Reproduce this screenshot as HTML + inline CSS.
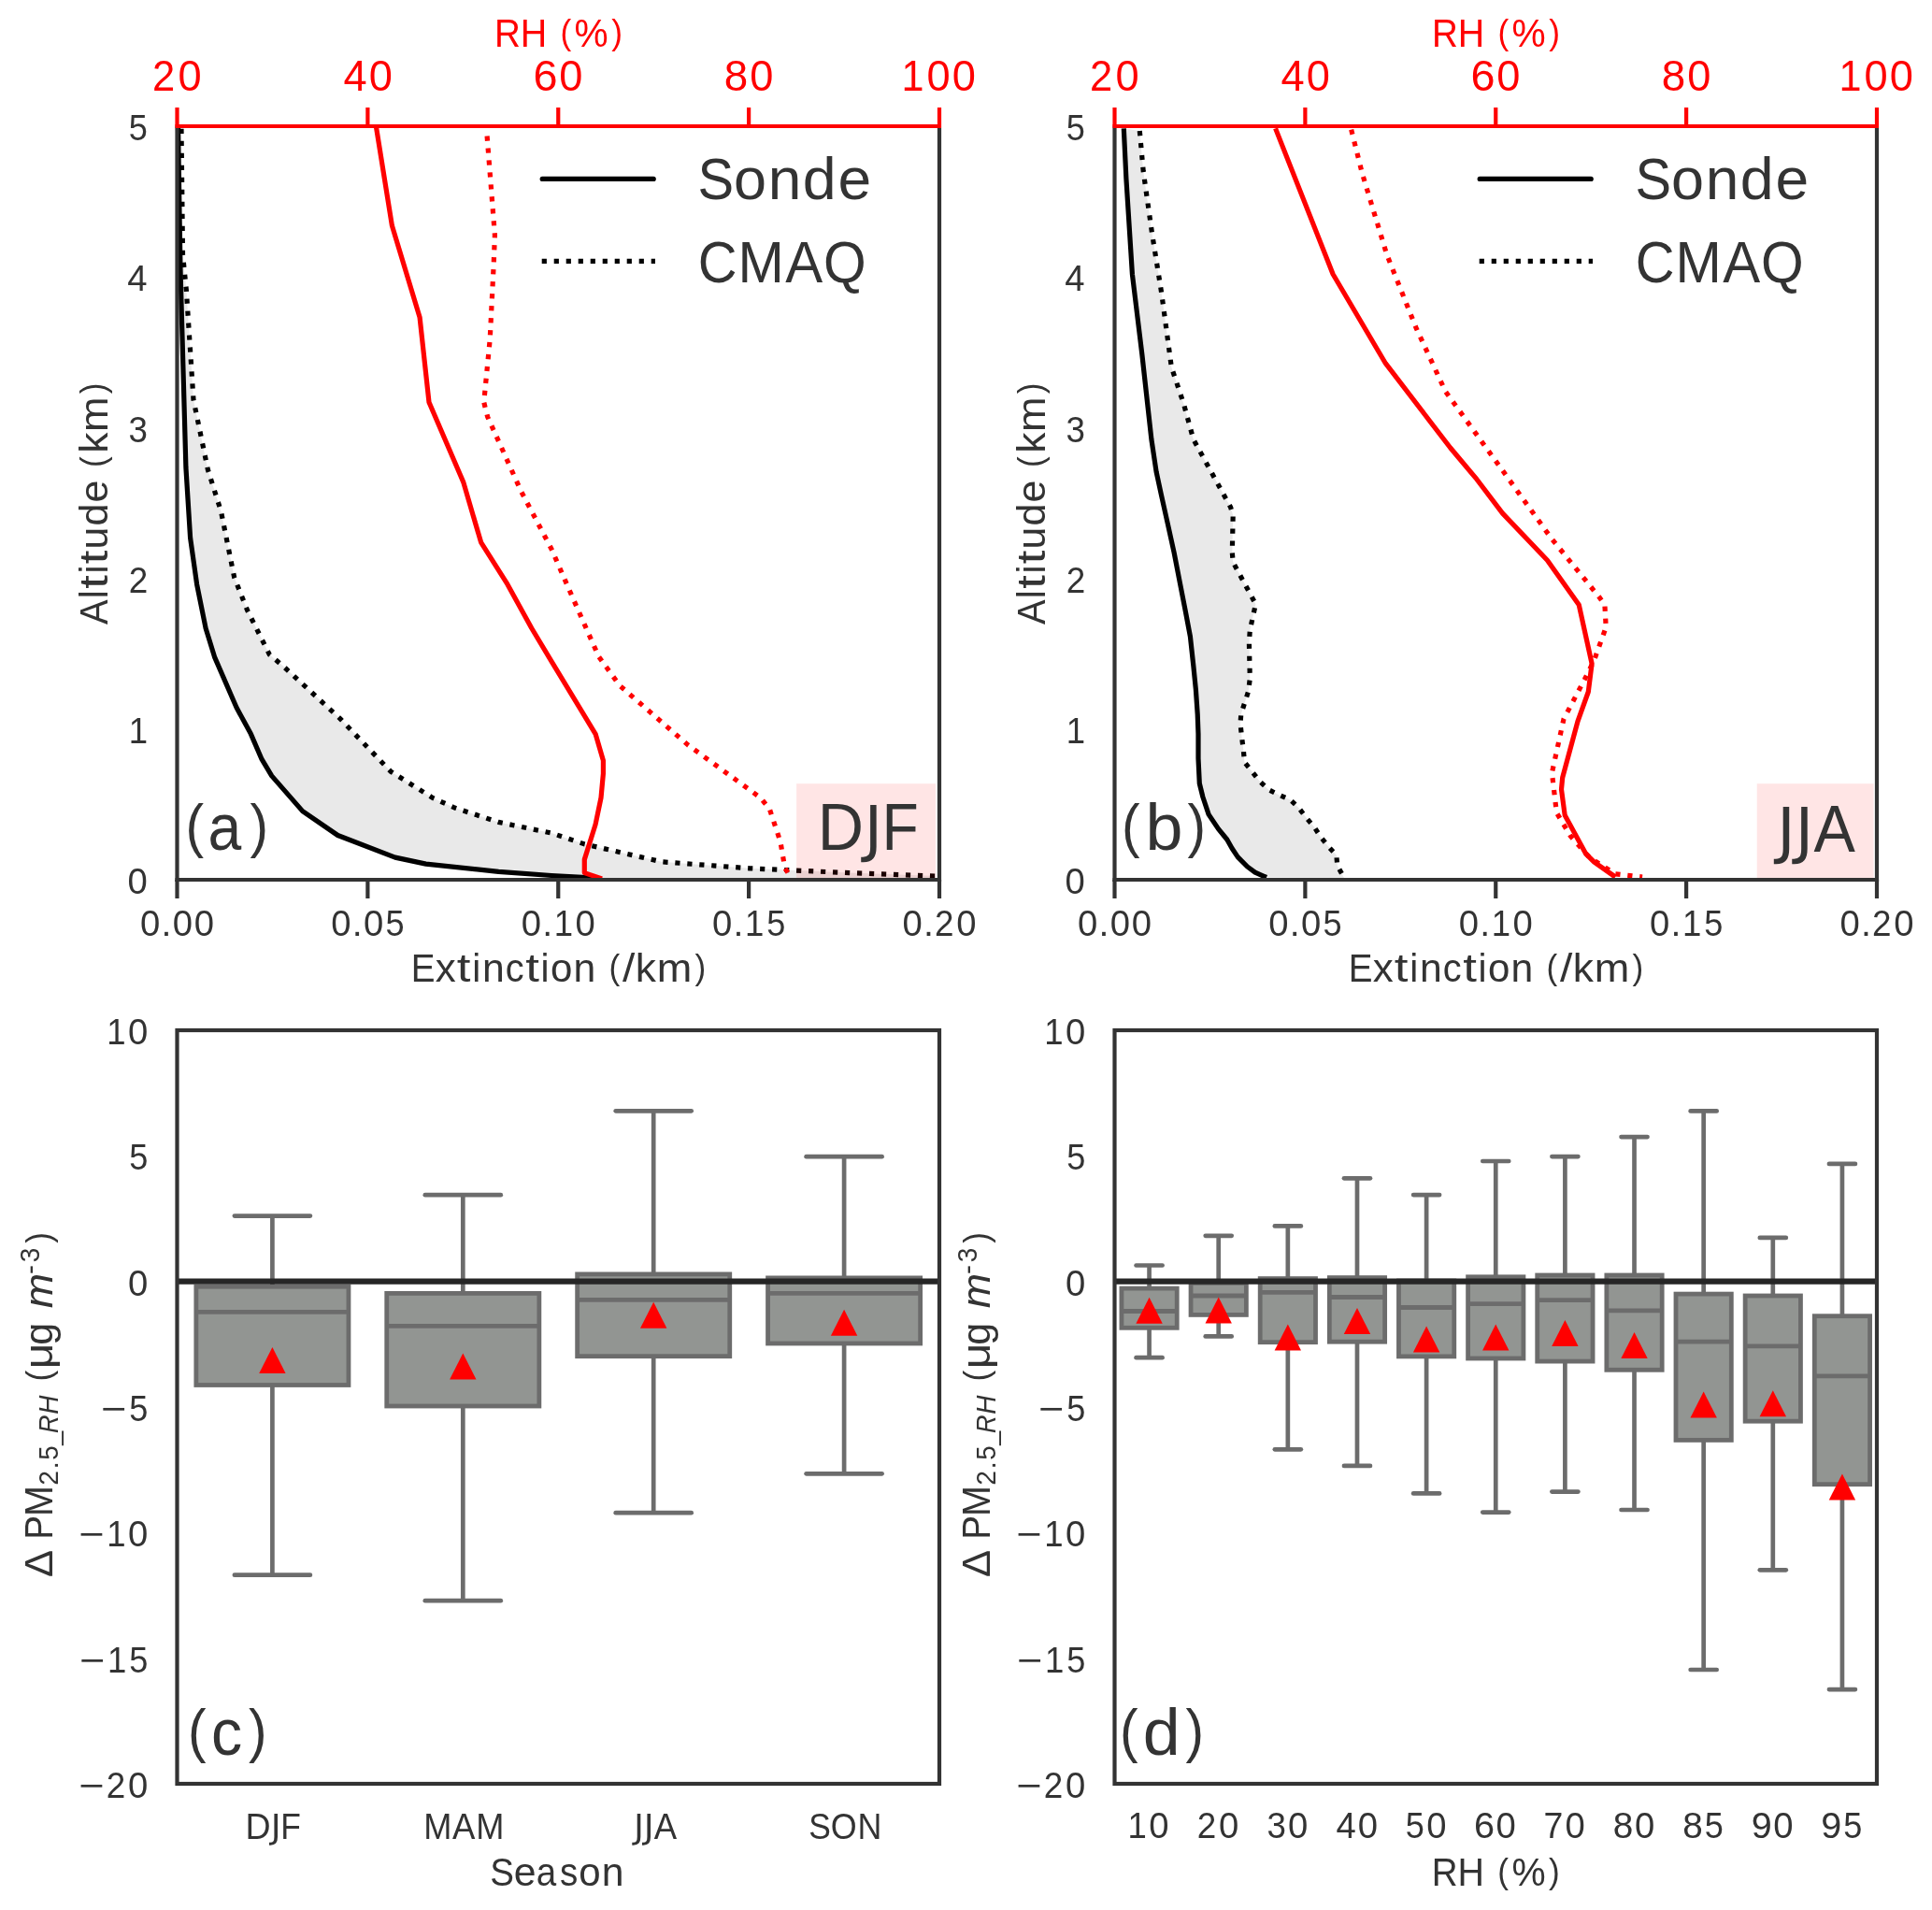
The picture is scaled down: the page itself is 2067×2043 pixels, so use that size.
<!DOCTYPE html>
<html><head><meta charset="utf-8"><style>html,body{margin:0;padding:0;background:#fff;overflow:hidden;}svg text{font-kerning:none;}svg{will-change:transform;}</style></head><body>
<svg width="2067" height="2043" viewBox="0 0 2067 2043" style="display:block" font-family="'Liberation Sans', sans-serif">
<rect width="2067" height="2043" fill="#ffffff"/>
<path d="M190.5,136 L191.5,200 L192.9,285 L195,360 L198.9,500 L203.6,575.4 L210.6,624.9 L220.1,672 L229.5,702.6 L253,756.8 L268.4,785.1 L280.1,812.2 L290.7,829.9 L323.7,867.6 L361.4,893.5 L422.7,917.1 L455.7,924.1 L533.4,932.4 L590,936.5 L637.1,939 L1001,939 L1001,937.1 L908.1,933.6 L802.1,928.8 L707.8,921.8 L625.3,902.9 L590,891.1 L533.4,879.4 L486.3,864 L462.8,853.4 L418,825.2 L363.8,768.6 L302.5,712.1 L288.4,700.3 L264.8,653.2 L250.7,617.8 L236.5,547.1 L222.4,502.4 L207,427.6 L199.4,311 L195.5,272 L194,137.8 Z" fill="#e9e9e9" stroke="none"/>
<path d="M190.5,136 L191.5,200 L192.9,285 L195,360 L198.9,500 L203.6,575.4 L210.6,624.9 L220.1,672 L229.5,702.6 L253,756.8 L268.4,785.1 L280.1,812.2 L290.7,829.9 L323.7,867.6 L361.4,893.5 L422.7,917.1 L455.7,924.1 L533.4,932.4 L590,936.5 L637.1,939" fill="none" stroke="#000" stroke-width="5.2" stroke-linecap="butt" stroke-linejoin="round"/>
<path d="M194,137.8 L195.5,272 L199.4,311 L207,427.6 L222.4,502.4 L236.5,547.1 L250.7,617.8 L264.8,653.2 L288.4,700.3 L302.5,712.1 L363.8,768.6 L418,825.2 L462.8,853.4 L486.3,864 L533.4,879.4 L590,891.1 L625.3,902.9 L707.8,921.8 L802.1,928.8 L908.1,933.6 L1001,937.1" fill="none" stroke="#000" stroke-width="5.2" stroke-linecap="butt" stroke-linejoin="round" stroke-dasharray="5.20 7.80"/>
<path d="M402.6,136.5 L419.4,241.3 L449.1,339.6 L459,430.2 L495.7,515.6 L514.6,580.1 L542.9,624.9 L568.8,672 L590,707.3 L637.1,785.1 L645.4,813.4 L645.4,827.5 L643,853.4 L637.1,881.7 L625.3,919.4 L625.3,933.6 L644,940" fill="none" stroke="#ff0000" stroke-width="5.2" stroke-linecap="butt" stroke-linejoin="round"/>
<path d="M521.1,145.5 L529.4,251.6 L528.1,285 L524.2,362.9 L517.7,430.2 L521.6,445.7 L557.8,526 L590,587.2 L613.6,641.4 L640.7,702.6 L663,733.3 L736.1,796.9 L813.8,853.4 L823.3,865.2 L835,900.6 L839.8,928.8 L846.8,939" fill="none" stroke="#ff0000" stroke-width="5.2" stroke-linecap="butt" stroke-linejoin="round" stroke-dasharray="5.20 7.80"/>
<line x1="189.5" y1="135" x2="189.5" y2="943" stroke="#333333" stroke-width="4.2" stroke-linecap="butt"/>
<line x1="1005" y1="135" x2="1005" y2="943" stroke="#333333" stroke-width="4.2" stroke-linecap="butt"/>
<line x1="187.5" y1="941" x2="1007" y2="941" stroke="#333333" stroke-width="4.2" stroke-linecap="butt"/>
<line x1="189.5" y1="941" x2="189.5" y2="961" stroke="#333333" stroke-width="4.2" stroke-linecap="butt"/>
<line x1="393.38" y1="941" x2="393.38" y2="961" stroke="#333333" stroke-width="4.2" stroke-linecap="butt"/>
<line x1="597.25" y1="941" x2="597.25" y2="961" stroke="#333333" stroke-width="4.2" stroke-linecap="butt"/>
<line x1="801.12" y1="941" x2="801.12" y2="961" stroke="#333333" stroke-width="4.2" stroke-linecap="butt"/>
<line x1="1005" y1="941" x2="1005" y2="961" stroke="#333333" stroke-width="4.2" stroke-linecap="butt"/>
<line x1="187.5" y1="135" x2="1007" y2="135" stroke="#ff0000" stroke-width="4.2" stroke-linecap="butt"/>
<line x1="189.5" y1="135" x2="189.5" y2="115" stroke="#ff0000" stroke-width="4.2" stroke-linecap="butt"/>
<line x1="393.38" y1="135" x2="393.38" y2="115" stroke="#ff0000" stroke-width="4.2" stroke-linecap="butt"/>
<line x1="597.25" y1="135" x2="597.25" y2="115" stroke="#ff0000" stroke-width="4.2" stroke-linecap="butt"/>
<line x1="801.12" y1="135" x2="801.12" y2="115" stroke="#ff0000" stroke-width="4.2" stroke-linecap="butt"/>
<line x1="1005" y1="135" x2="1005" y2="115" stroke="#ff0000" stroke-width="4.2" stroke-linecap="butt"/>
<line x1="580.2" y1="191.4" x2="699.2" y2="191.4" stroke="#000" stroke-width="5.2" stroke-linecap="round"/>
<line x1="579.7" y1="279.4" x2="701" y2="279.4" stroke="#000" stroke-width="5.2" stroke-dasharray="5.20 7.80"/>
<g transform="translate(750.5,213)" fill="#333333" font-size="62.94"><text transform="translate(-4.06,0) scale(0.920,1)">S</text><text x="34.42">o</text><text transform="translate(71.27,0) scale(1.018,1)">n</text><text transform="translate(108.34,0) scale(1.026,1)">d</text><text transform="translate(146.04,0) scale(1.019,1)">e</text></g>
<g transform="translate(750.5,301.6)" fill="#333333" font-size="62.94"><text transform="translate(-3.82,0) scale(0.920,1)">C</text><text transform="translate(39.11,0) scale(0.941,1)">M</text><text transform="translate(89.74,0) scale(0.951,1)">A</text><text transform="translate(130.58,0) scale(0.933,1)">Q</text></g>
<g transform="translate(189.5,96.7)" fill="#ff0000" font-size="45.46"><text transform="translate(-26.49,0) scale(0.959,1)">2</text><text transform="translate(0.91,0) scale(0.995,1)">0</text></g>
<g transform="translate(393.38,96.7)" fill="#ff0000" font-size="45.46"><text transform="translate(-25.86,0) scale(0.995,1)">4</text><text transform="translate(1.44,0) scale(0.995,1)">0</text></g>
<g transform="translate(597.25,96.7)" fill="#ff0000" font-size="45.46"><text transform="translate(-26.75,0) scale(1.030,1)">6</text><text transform="translate(0.99,0) scale(0.995,1)">0</text></g>
<g transform="translate(801.12,96.7)" fill="#ff0000" font-size="45.46"><text transform="translate(-26.4,0) scale(1.006,1)">8</text><text transform="translate(1.03,0) scale(0.995,1)">0</text></g>
<g transform="translate(1005,96.7)" fill="#ff0000" font-size="45.46"><text transform="translate(-40.45,0) scale(0.950,1)">1</text><text transform="translate(-13.52,0) scale(0.995,1)">0</text><text transform="translate(13.78,0) scale(0.995,1)">0</text></g>
<g transform="translate(598,50)" fill="#ff0000" font-size="41.96"><text transform="translate(-68.94,0) scale(0.920,1)">R</text><text transform="translate(-41.27,0) scale(0.939,1)">H</text><text transform="translate(1.42,-2.62) scale(0.840,0.902)">(</text><text transform="translate(16.62,0) scale(0.969,1)">%</text><text transform="translate(56.24,-2.62) scale(0.840,0.902)">)</text></g>
<g transform="translate(189.5,1001)" fill="#333333" font-size="38.46"><text transform="translate(-39.51,0) scale(0.995,1)">0</text><text transform="translate(-17.01,0) scale(1.021,1)">.</text><text transform="translate(-4.87,0) scale(0.995,1)">0</text><text transform="translate(18.22,0) scale(0.995,1)">0</text></g>
<g transform="translate(393.38,1001)" fill="#333333" font-size="38.46"><text transform="translate(-39.12,0) scale(0.995,1)">0</text><text transform="translate(-16.63,0) scale(1.021,1)">.</text><text transform="translate(-4.49,0) scale(0.995,1)">0</text><text transform="translate(19.06,0) scale(0.939,1)">5</text></g>
<g transform="translate(597.25,1001)" fill="#333333" font-size="38.46"><text transform="translate(-39.51,0) scale(0.995,1)">0</text><text transform="translate(-17.01,0) scale(1.021,1)">.</text><text transform="translate(-4.57,0) scale(0.950,1)">1</text><text transform="translate(18.22,0) scale(0.995,1)">0</text></g>
<g transform="translate(801.12,1001)" fill="#333333" font-size="38.46"><text transform="translate(-39.12,0) scale(0.995,1)">0</text><text transform="translate(-16.63,0) scale(1.021,1)">.</text><text transform="translate(-4.18,0) scale(0.950,1)">1</text><text transform="translate(19.06,0) scale(0.939,1)">5</text></g>
<g transform="translate(1005,1001)" fill="#333333" font-size="38.46"><text transform="translate(-39.51,0) scale(0.995,1)">0</text><text transform="translate(-17.01,0) scale(1.021,1)">.</text><text transform="translate(-4.97,0) scale(0.959,1)">2</text><text transform="translate(18.22,0) scale(0.995,1)">0</text></g>
<g transform="translate(598.4,1050.1)" fill="#333333" font-size="41.96"><text transform="translate(-158.71,0) scale(0.920,1)">E</text><text transform="translate(-132.6,0) scale(1.047,1)">x</text><text transform="translate(-109.55,0) scale(1.261,1)">t</text><text transform="translate(-93.26,0) scale(0.965,1)">i</text><text transform="translate(-82.52,0) scale(1.018,1)">n</text><text transform="translate(-57.68,0) scale(0.947,1)">c</text><text transform="translate(-36.15,0) scale(1.261,1)">t</text><text transform="translate(-19.86,0) scale(0.965,1)">i</text><text x="-9.46">o</text><text transform="translate(15.11,0) scale(1.018,1)">n</text><text transform="translate(53.02,-2.62) scale(0.840,0.902)">(</text><text transform="translate(67.48,0) scale(1.144,1)">/</text><text transform="translate(81.44,0) scale(1.055,1)">k</text><text transform="translate(104.36,0) scale(1.075,1)">m</text><text transform="translate(145.06,-2.62) scale(0.840,0.902)">)</text></g>
<g transform="translate(156.4,956.2)" fill="#333333" font-size="38.46"><text transform="translate(-19.79,0) scale(0.995,1)">0</text></g>
<g transform="translate(156.4,795)" fill="#333333" font-size="38.46"><text transform="translate(-18.54,0) scale(0.950,1)">1</text></g>
<g transform="translate(156.4,633.8)" fill="#333333" font-size="38.46"><text transform="translate(-18.66,0) scale(0.959,1)">2</text></g>
<g transform="translate(156.4,472.6)" fill="#333333" font-size="38.46"><text transform="translate(-18.82,0) scale(0.955,1)">3</text></g>
<g transform="translate(156.4,311.4)" fill="#333333" font-size="38.46"><text transform="translate(-20.16,0) scale(0.995,1)">4</text></g>
<g transform="translate(156.4,150.2)" fill="#333333" font-size="38.46"><text transform="translate(-18.57,0) scale(0.939,1)">5</text></g>
<g transform="translate(114.7,539.9) rotate(-90)" fill="#333333" font-size="41.96"><text transform="translate(-128.09,0) scale(0.951,1)">A</text><text transform="translate(-100.23,0) scale(0.965,1)">l</text><text transform="translate(-89.97,0) scale(1.261,1)">t</text><text transform="translate(-73.68,0) scale(0.965,1)">i</text><text transform="translate(-63.44,0) scale(1.261,1)">t</text><text transform="translate(-47.58,0) scale(1.018,1)">u</text><text transform="translate(-22.7,0) scale(1.026,1)">d</text><text transform="translate(2.43,0) scale(1.019,1)">e</text><text transform="translate(39.99,-2.62) scale(0.840,0.902)">(</text><text transform="translate(55.07,0) scale(1.055,1)">k</text><text transform="translate(77.99,0) scale(1.075,1)">m</text><text transform="translate(118.7,-2.62) scale(0.840,0.902)">)</text></g>
<rect x="852.1" y="838.2" width="148.9" height="100.8" fill="rgba(255,0,0,0.1)"/>
<g transform="translate(880.3,909)" fill="#333333" font-size="69.93"><text transform="translate(-5.6,0) scale(0.976,1)">D</text><path transform="translate(44.34,0) scale(0.03223,-0.03223)" d="M201 1493H403V104Q403 -166 300 -288Q198 -410 -29 -410H-106V-240H-43Q91 -240 146 -165Q201 -90 201 104Z"/><text transform="translate(63.11,0) scale(0.920,1)">F</text></g>
<g transform="translate(202.5,909)" fill="#333333" font-size="69.93"><text transform="translate(-4.03,-4.36) scale(0.840,0.902)">(</text><text transform="translate(20.03,0) scale(0.920,1)">a</text><text transform="translate(65.07,-4.36) scale(0.840,0.902)">)</text></g>
<path d="M1202.3,137.4 L1204.9,191.1 L1211.4,293.2 L1221.9,379.6 L1231.9,470 L1237.1,504.6 L1242.3,528.7 L1249.2,559.8 L1256.1,591 L1262.1,622 L1268.2,653.2 L1273.4,680.8 L1276.8,711.9 L1279.4,737.8 L1281.2,763.7 L1282,785 L1282,811.1 L1283.3,838 L1286.9,852.5 L1293.1,871.1 L1303.5,886.6 L1312.8,898 L1318,907.3 L1324.2,916.6 L1334.5,927 L1342.8,933.2 L1351.1,936.8 L1355,938.5 L1438,939 L1438,939 L1430.8,926 L1429.8,914.6 L1421,905.3 L1412.7,894.9 L1406,884.6 L1397.2,874.2 L1389.4,863.9 L1380.6,855.6 L1368.7,850.4 L1357.3,844.7 L1348,835.9 L1339.7,825.5 L1331.4,815.2 L1330.4,802.8 L1328.7,789.7 L1327,774.1 L1327.8,763.7 L1335.6,739.5 L1337.3,725.7 L1336.4,687.7 L1337.3,673.9 L1343.4,646.2 L1319.2,601.3 L1318.3,591 L1319.2,551.2 L1316.6,542.6 L1276.8,470 L1266.4,431.9 L1253.3,392.7 L1242.8,314.1 L1232.4,248.7 L1223.2,183.2 L1219.3,140 Z" fill="#e9e9e9" stroke="none"/>
<path d="M1202.3,137.4 L1204.9,191.1 L1211.4,293.2 L1221.9,379.6 L1231.9,470 L1237.1,504.6 L1242.3,528.7 L1249.2,559.8 L1256.1,591 L1262.1,622 L1268.2,653.2 L1273.4,680.8 L1276.8,711.9 L1279.4,737.8 L1281.2,763.7 L1282,785 L1282,811.1 L1283.3,838 L1286.9,852.5 L1293.1,871.1 L1303.5,886.6 L1312.8,898 L1318,907.3 L1324.2,916.6 L1334.5,927 L1342.8,933.2 L1351.1,936.8 L1355,938.5" fill="none" stroke="#000" stroke-width="5.2" stroke-linecap="butt" stroke-linejoin="round"/>
<path d="M1219.3,140 L1223.2,183.2 L1232.4,248.7 L1242.8,314.1 L1253.3,392.7 L1266.4,431.9 L1276.8,470 L1316.6,542.6 L1319.2,551.2 L1318.3,591 L1319.2,601.3 L1343.4,646.2 L1337.3,673.9 L1336.4,687.7 L1337.3,725.7 L1335.6,739.5 L1327.8,763.7 L1327,774.1 L1328.7,789.7 L1330.4,802.8 L1331.4,815.2 L1339.7,825.5 L1348,835.9 L1357.3,844.7 L1368.7,850.4 L1380.6,855.6 L1389.4,863.9 L1397.2,874.2 L1406,884.6 L1412.7,894.9 L1421,905.3 L1429.8,914.6 L1430.8,926 L1438,939" fill="none" stroke="#000" stroke-width="5.2" stroke-linecap="butt" stroke-linejoin="round" stroke-dasharray="5.20 7.80"/>
<path d="M1364.6,137.4 L1426.1,293.2 L1482.4,388.7 L1551.7,479 L1580,512.7 L1607.6,549.1 L1655.4,599.3 L1689.3,647.1 L1703.1,709.9 L1699.3,740 L1688,771.5 L1671.7,831.8 L1670.5,844.3 L1674.2,872 L1696.8,913.4 L1705.6,922.2 L1728.2,938" fill="none" stroke="#ff0000" stroke-width="5.2" stroke-linecap="butt" stroke-linejoin="round"/>
<path d="M1445.7,138.7 L1457.5,185.9 L1483.7,272.3 L1515.1,350.8 L1546.5,418.8 L1592.6,482.5 L1660.4,576.7 L1710.7,638.3 L1716.9,647.1 L1718.2,671 L1705.6,706.1 L1695.6,726.2 L1673,769 L1660.4,826.7 L1665.4,869.4 L1680.5,894.6 L1700.6,917.2 L1728.2,934.8 L1757.1,938" fill="none" stroke="#ff0000" stroke-width="5.2" stroke-linecap="butt" stroke-linejoin="round" stroke-dasharray="5.20 7.80"/>
<line x1="1192.5" y1="135" x2="1192.5" y2="943" stroke="#333333" stroke-width="4.2" stroke-linecap="butt"/>
<line x1="2008" y1="135" x2="2008" y2="943" stroke="#333333" stroke-width="4.2" stroke-linecap="butt"/>
<line x1="1190.5" y1="941" x2="2010" y2="941" stroke="#333333" stroke-width="4.2" stroke-linecap="butt"/>
<line x1="1192.5" y1="941" x2="1192.5" y2="961" stroke="#333333" stroke-width="4.2" stroke-linecap="butt"/>
<line x1="1396.38" y1="941" x2="1396.38" y2="961" stroke="#333333" stroke-width="4.2" stroke-linecap="butt"/>
<line x1="1600.25" y1="941" x2="1600.25" y2="961" stroke="#333333" stroke-width="4.2" stroke-linecap="butt"/>
<line x1="1804.12" y1="941" x2="1804.12" y2="961" stroke="#333333" stroke-width="4.2" stroke-linecap="butt"/>
<line x1="2008" y1="941" x2="2008" y2="961" stroke="#333333" stroke-width="4.2" stroke-linecap="butt"/>
<line x1="1190.5" y1="135" x2="2010" y2="135" stroke="#ff0000" stroke-width="4.2" stroke-linecap="butt"/>
<line x1="1192.5" y1="135" x2="1192.5" y2="115" stroke="#ff0000" stroke-width="4.2" stroke-linecap="butt"/>
<line x1="1396.38" y1="135" x2="1396.38" y2="115" stroke="#ff0000" stroke-width="4.2" stroke-linecap="butt"/>
<line x1="1600.25" y1="135" x2="1600.25" y2="115" stroke="#ff0000" stroke-width="4.2" stroke-linecap="butt"/>
<line x1="1804.12" y1="135" x2="1804.12" y2="115" stroke="#ff0000" stroke-width="4.2" stroke-linecap="butt"/>
<line x1="2008" y1="135" x2="2008" y2="115" stroke="#ff0000" stroke-width="4.2" stroke-linecap="butt"/>
<line x1="1583.2" y1="191.4" x2="1702.2" y2="191.4" stroke="#000" stroke-width="5.2" stroke-linecap="round"/>
<line x1="1582.7" y1="279.4" x2="1704" y2="279.4" stroke="#000" stroke-width="5.2" stroke-dasharray="5.20 7.80"/>
<g transform="translate(1753.5,213)" fill="#333333" font-size="62.94"><text transform="translate(-4.06,0) scale(0.920,1)">S</text><text x="34.42">o</text><text transform="translate(71.27,0) scale(1.018,1)">n</text><text transform="translate(108.34,0) scale(1.026,1)">d</text><text transform="translate(146.04,0) scale(1.019,1)">e</text></g>
<g transform="translate(1753.5,301.6)" fill="#333333" font-size="62.94"><text transform="translate(-3.82,0) scale(0.920,1)">C</text><text transform="translate(39.11,0) scale(0.941,1)">M</text><text transform="translate(89.74,0) scale(0.951,1)">A</text><text transform="translate(130.58,0) scale(0.933,1)">Q</text></g>
<g transform="translate(1192.5,96.7)" fill="#ff0000" font-size="45.46"><text transform="translate(-26.49,0) scale(0.959,1)">2</text><text transform="translate(0.91,0) scale(0.995,1)">0</text></g>
<g transform="translate(1396.38,96.7)" fill="#ff0000" font-size="45.46"><text transform="translate(-25.86,0) scale(0.995,1)">4</text><text transform="translate(1.44,0) scale(0.995,1)">0</text></g>
<g transform="translate(1600.25,96.7)" fill="#ff0000" font-size="45.46"><text transform="translate(-26.75,0) scale(1.030,1)">6</text><text transform="translate(0.99,0) scale(0.995,1)">0</text></g>
<g transform="translate(1804.12,96.7)" fill="#ff0000" font-size="45.46"><text transform="translate(-26.4,0) scale(1.006,1)">8</text><text transform="translate(1.03,0) scale(0.995,1)">0</text></g>
<g transform="translate(2008,96.7)" fill="#ff0000" font-size="45.46"><text transform="translate(-40.45,0) scale(0.950,1)">1</text><text transform="translate(-13.52,0) scale(0.995,1)">0</text><text transform="translate(13.78,0) scale(0.995,1)">0</text></g>
<g transform="translate(1601,50)" fill="#ff0000" font-size="41.96"><text transform="translate(-68.94,0) scale(0.920,1)">R</text><text transform="translate(-41.27,0) scale(0.939,1)">H</text><text transform="translate(1.42,-2.62) scale(0.840,0.902)">(</text><text transform="translate(16.62,0) scale(0.969,1)">%</text><text transform="translate(56.24,-2.62) scale(0.840,0.902)">)</text></g>
<g transform="translate(1192.5,1001)" fill="#333333" font-size="38.46"><text transform="translate(-39.51,0) scale(0.995,1)">0</text><text transform="translate(-17.01,0) scale(1.021,1)">.</text><text transform="translate(-4.87,0) scale(0.995,1)">0</text><text transform="translate(18.22,0) scale(0.995,1)">0</text></g>
<g transform="translate(1396.38,1001)" fill="#333333" font-size="38.46"><text transform="translate(-39.12,0) scale(0.995,1)">0</text><text transform="translate(-16.63,0) scale(1.021,1)">.</text><text transform="translate(-4.49,0) scale(0.995,1)">0</text><text transform="translate(19.06,0) scale(0.939,1)">5</text></g>
<g transform="translate(1600.25,1001)" fill="#333333" font-size="38.46"><text transform="translate(-39.51,0) scale(0.995,1)">0</text><text transform="translate(-17.01,0) scale(1.021,1)">.</text><text transform="translate(-4.57,0) scale(0.950,1)">1</text><text transform="translate(18.22,0) scale(0.995,1)">0</text></g>
<g transform="translate(1804.12,1001)" fill="#333333" font-size="38.46"><text transform="translate(-39.12,0) scale(0.995,1)">0</text><text transform="translate(-16.63,0) scale(1.021,1)">.</text><text transform="translate(-4.18,0) scale(0.950,1)">1</text><text transform="translate(19.06,0) scale(0.939,1)">5</text></g>
<g transform="translate(2008,1001)" fill="#333333" font-size="38.46"><text transform="translate(-39.51,0) scale(0.995,1)">0</text><text transform="translate(-17.01,0) scale(1.021,1)">.</text><text transform="translate(-4.97,0) scale(0.959,1)">2</text><text transform="translate(18.22,0) scale(0.995,1)">0</text></g>
<g transform="translate(1601.4,1050.1)" fill="#333333" font-size="41.96"><text transform="translate(-158.71,0) scale(0.920,1)">E</text><text transform="translate(-132.6,0) scale(1.047,1)">x</text><text transform="translate(-109.55,0) scale(1.261,1)">t</text><text transform="translate(-93.26,0) scale(0.965,1)">i</text><text transform="translate(-82.52,0) scale(1.018,1)">n</text><text transform="translate(-57.68,0) scale(0.947,1)">c</text><text transform="translate(-36.15,0) scale(1.261,1)">t</text><text transform="translate(-19.86,0) scale(0.965,1)">i</text><text x="-9.46">o</text><text transform="translate(15.11,0) scale(1.018,1)">n</text><text transform="translate(53.02,-2.62) scale(0.840,0.902)">(</text><text transform="translate(67.48,0) scale(1.144,1)">/</text><text transform="translate(81.44,0) scale(1.055,1)">k</text><text transform="translate(104.36,0) scale(1.075,1)">m</text><text transform="translate(145.06,-2.62) scale(0.840,0.902)">)</text></g>
<g transform="translate(1159.4,956.2)" fill="#333333" font-size="38.46"><text transform="translate(-19.79,0) scale(0.995,1)">0</text></g>
<g transform="translate(1159.4,795)" fill="#333333" font-size="38.46"><text transform="translate(-18.54,0) scale(0.950,1)">1</text></g>
<g transform="translate(1159.4,633.8)" fill="#333333" font-size="38.46"><text transform="translate(-18.66,0) scale(0.959,1)">2</text></g>
<g transform="translate(1159.4,472.6)" fill="#333333" font-size="38.46"><text transform="translate(-18.82,0) scale(0.955,1)">3</text></g>
<g transform="translate(1159.4,311.4)" fill="#333333" font-size="38.46"><text transform="translate(-20.16,0) scale(0.995,1)">4</text></g>
<g transform="translate(1159.4,150.2)" fill="#333333" font-size="38.46"><text transform="translate(-18.57,0) scale(0.939,1)">5</text></g>
<g transform="translate(1117.7,539.9) rotate(-90)" fill="#333333" font-size="41.96"><text transform="translate(-128.09,0) scale(0.951,1)">A</text><text transform="translate(-100.23,0) scale(0.965,1)">l</text><text transform="translate(-89.97,0) scale(1.261,1)">t</text><text transform="translate(-73.68,0) scale(0.965,1)">i</text><text transform="translate(-63.44,0) scale(1.261,1)">t</text><text transform="translate(-47.58,0) scale(1.018,1)">u</text><text transform="translate(-22.7,0) scale(1.026,1)">d</text><text transform="translate(2.43,0) scale(1.019,1)">e</text><text transform="translate(39.99,-2.62) scale(0.840,0.902)">(</text><text transform="translate(55.07,0) scale(1.055,1)">k</text><text transform="translate(77.99,0) scale(1.075,1)">m</text><text transform="translate(118.7,-2.62) scale(0.840,0.902)">)</text></g>
<rect x="1879.7" y="838.2" width="124.9" height="100.8" fill="rgba(255,0,0,0.1)"/>
<g transform="translate(1897.8,911)" fill="#333333" font-size="69.93"><path transform="translate(3.42,0) scale(0.03223,-0.03223)" d="M201 1493H403V104Q403 -166 300 -288Q198 -410 -29 -410H-106V-240H-43Q91 -240 146 -165Q201 -90 201 104Z"/><path transform="translate(22.88,0) scale(0.03223,-0.03223)" d="M201 1493H403V104Q403 -166 300 -288Q198 -410 -29 -410H-106V-240H-43Q91 -240 146 -165Q201 -90 201 104Z"/><text transform="translate(42.73,0) scale(0.951,1)">A</text></g>
<g transform="translate(1204,909)" fill="#333333" font-size="69.93"><text transform="translate(-4.03,-4.36) scale(0.840,0.902)">(</text><text transform="translate(21.44,0) scale(1.027,1)">b</text><text transform="translate(66.52,-4.36) scale(0.840,0.902)">)</text></g>
<line x1="291.4" y1="1300.6" x2="291.4" y2="1376.2" stroke="#6c6c6c" stroke-width="4.7" stroke-linecap="butt"/>
<line x1="291.4" y1="1481.5" x2="291.4" y2="1684.7" stroke="#6c6c6c" stroke-width="4.7" stroke-linecap="butt"/>
<line x1="250.9" y1="1300.6" x2="331.9" y2="1300.6" stroke="#6c6c6c" stroke-width="4.7" stroke-linecap="round"/>
<line x1="250.9" y1="1684.7" x2="331.9" y2="1684.7" stroke="#6c6c6c" stroke-width="4.7" stroke-linecap="round"/>
<rect x="209.85" y="1376.2" width="163.1" height="105.3" fill="#929592" stroke="#6c6c6c" stroke-width="4.8"/>
<line x1="209.85" y1="1403.3" x2="372.95" y2="1403.3" stroke="#6c6c6c" stroke-width="4.8" stroke-linecap="butt"/>
<line x1="495.3" y1="1278.2" x2="495.3" y2="1383.4" stroke="#6c6c6c" stroke-width="4.7" stroke-linecap="butt"/>
<line x1="495.3" y1="1504" x2="495.3" y2="1712.2" stroke="#6c6c6c" stroke-width="4.7" stroke-linecap="butt"/>
<line x1="454.8" y1="1278.2" x2="535.8" y2="1278.2" stroke="#6c6c6c" stroke-width="4.7" stroke-linecap="round"/>
<line x1="454.8" y1="1712.2" x2="535.8" y2="1712.2" stroke="#6c6c6c" stroke-width="4.7" stroke-linecap="round"/>
<rect x="413.75" y="1383.4" width="163.1" height="120.6" fill="#929592" stroke="#6c6c6c" stroke-width="4.8"/>
<line x1="413.75" y1="1418.4" x2="576.85" y2="1418.4" stroke="#6c6c6c" stroke-width="4.8" stroke-linecap="butt"/>
<line x1="699.2" y1="1188.3" x2="699.2" y2="1362.9" stroke="#6c6c6c" stroke-width="4.7" stroke-linecap="butt"/>
<line x1="699.2" y1="1450.7" x2="699.2" y2="1618.2" stroke="#6c6c6c" stroke-width="4.7" stroke-linecap="butt"/>
<line x1="658.7" y1="1188.3" x2="739.7" y2="1188.3" stroke="#6c6c6c" stroke-width="4.7" stroke-linecap="round"/>
<line x1="658.7" y1="1618.2" x2="739.7" y2="1618.2" stroke="#6c6c6c" stroke-width="4.7" stroke-linecap="round"/>
<rect x="617.65" y="1362.9" width="163.1" height="87.8" fill="#929592" stroke="#6c6c6c" stroke-width="4.8"/>
<line x1="617.65" y1="1390.4" x2="780.75" y2="1390.4" stroke="#6c6c6c" stroke-width="4.8" stroke-linecap="butt"/>
<line x1="903.1" y1="1237.2" x2="903.1" y2="1366.9" stroke="#6c6c6c" stroke-width="4.7" stroke-linecap="butt"/>
<line x1="903.1" y1="1437" x2="903.1" y2="1576.3" stroke="#6c6c6c" stroke-width="4.7" stroke-linecap="butt"/>
<line x1="862.6" y1="1237.2" x2="943.6" y2="1237.2" stroke="#6c6c6c" stroke-width="4.7" stroke-linecap="round"/>
<line x1="862.6" y1="1576.3" x2="943.6" y2="1576.3" stroke="#6c6c6c" stroke-width="4.7" stroke-linecap="round"/>
<rect x="821.55" y="1366.9" width="163.1" height="70.1" fill="#929592" stroke="#6c6c6c" stroke-width="4.8"/>
<line x1="821.55" y1="1383.4" x2="984.65" y2="1383.4" stroke="#6c6c6c" stroke-width="4.8" stroke-linecap="butt"/>
<path d="M291.4,1440.9 L305.6,1468.9 L277.2,1468.9 Z" fill="#ff0000"/>
<path d="M495.3,1447.5 L509.5,1475.5 L481.1,1475.5 Z" fill="#ff0000"/>
<path d="M699.2,1392.8 L713.4,1420.8 L685,1420.8 Z" fill="#ff0000"/>
<path d="M903.1,1400.7 L917.3,1428.7 L888.9,1428.7 Z" fill="#ff0000"/>
<line x1="189.5" y1="1370.7" x2="1005" y2="1370.7" stroke="#262626" stroke-width="6.2" stroke-linecap="butt"/>
<rect x="189.5" y="1102" width="815.5" height="806" fill="none" stroke="#333333" stroke-width="4.2"/>
<line x1="1229.57" y1="1353.5" x2="1229.57" y2="1378.1" stroke="#6c6c6c" stroke-width="4.7" stroke-linecap="butt"/>
<line x1="1229.57" y1="1420.3" x2="1229.57" y2="1452.2" stroke="#6c6c6c" stroke-width="4.7" stroke-linecap="butt"/>
<line x1="1215.57" y1="1353.5" x2="1243.57" y2="1353.5" stroke="#6c6c6c" stroke-width="4.7" stroke-linecap="round"/>
<line x1="1215.57" y1="1452.2" x2="1243.57" y2="1452.2" stroke="#6c6c6c" stroke-width="4.7" stroke-linecap="round"/>
<rect x="1199.91" y="1378.1" width="59.31" height="42.2" fill="#929592" stroke="#6c6c6c" stroke-width="4.8"/>
<line x1="1199.91" y1="1402.5" x2="1259.22" y2="1402.5" stroke="#6c6c6c" stroke-width="4.8" stroke-linecap="butt"/>
<line x1="1303.7" y1="1321.8" x2="1303.7" y2="1372.4" stroke="#6c6c6c" stroke-width="4.7" stroke-linecap="butt"/>
<line x1="1303.7" y1="1406.4" x2="1303.7" y2="1429.4" stroke="#6c6c6c" stroke-width="4.7" stroke-linecap="butt"/>
<line x1="1289.7" y1="1321.8" x2="1317.7" y2="1321.8" stroke="#6c6c6c" stroke-width="4.7" stroke-linecap="round"/>
<line x1="1289.7" y1="1429.4" x2="1317.7" y2="1429.4" stroke="#6c6c6c" stroke-width="4.7" stroke-linecap="round"/>
<rect x="1274.05" y="1372.4" width="59.31" height="34" fill="#929592" stroke="#6c6c6c" stroke-width="4.8"/>
<line x1="1274.05" y1="1386" x2="1333.36" y2="1386" stroke="#6c6c6c" stroke-width="4.8" stroke-linecap="butt"/>
<line x1="1377.84" y1="1311.4" x2="1377.84" y2="1367.6" stroke="#6c6c6c" stroke-width="4.7" stroke-linecap="butt"/>
<line x1="1377.84" y1="1435.7" x2="1377.84" y2="1550.3" stroke="#6c6c6c" stroke-width="4.7" stroke-linecap="butt"/>
<line x1="1363.84" y1="1311.4" x2="1391.84" y2="1311.4" stroke="#6c6c6c" stroke-width="4.7" stroke-linecap="round"/>
<line x1="1363.84" y1="1550.3" x2="1391.84" y2="1550.3" stroke="#6c6c6c" stroke-width="4.7" stroke-linecap="round"/>
<rect x="1348.19" y="1367.6" width="59.31" height="68.1" fill="#929592" stroke="#6c6c6c" stroke-width="4.8"/>
<line x1="1348.19" y1="1382.3" x2="1407.5" y2="1382.3" stroke="#6c6c6c" stroke-width="4.8" stroke-linecap="butt"/>
<line x1="1451.98" y1="1260.3" x2="1451.98" y2="1366.6" stroke="#6c6c6c" stroke-width="4.7" stroke-linecap="butt"/>
<line x1="1451.98" y1="1435.2" x2="1451.98" y2="1567.9" stroke="#6c6c6c" stroke-width="4.7" stroke-linecap="butt"/>
<line x1="1437.98" y1="1260.3" x2="1465.98" y2="1260.3" stroke="#6c6c6c" stroke-width="4.7" stroke-linecap="round"/>
<line x1="1437.98" y1="1567.9" x2="1465.98" y2="1567.9" stroke="#6c6c6c" stroke-width="4.7" stroke-linecap="round"/>
<rect x="1422.32" y="1366.6" width="59.31" height="68.6" fill="#929592" stroke="#6c6c6c" stroke-width="4.8"/>
<line x1="1422.32" y1="1387.5" x2="1481.63" y2="1387.5" stroke="#6c6c6c" stroke-width="4.8" stroke-linecap="butt"/>
<line x1="1526.11" y1="1278.1" x2="1526.11" y2="1370" stroke="#6c6c6c" stroke-width="4.7" stroke-linecap="butt"/>
<line x1="1526.11" y1="1450.9" x2="1526.11" y2="1597.4" stroke="#6c6c6c" stroke-width="4.7" stroke-linecap="butt"/>
<line x1="1512.11" y1="1278.1" x2="1540.11" y2="1278.1" stroke="#6c6c6c" stroke-width="4.7" stroke-linecap="round"/>
<line x1="1512.11" y1="1597.4" x2="1540.11" y2="1597.4" stroke="#6c6c6c" stroke-width="4.7" stroke-linecap="round"/>
<rect x="1496.46" y="1370" width="59.31" height="80.9" fill="#929592" stroke="#6c6c6c" stroke-width="4.8"/>
<line x1="1496.46" y1="1398.5" x2="1555.77" y2="1398.5" stroke="#6c6c6c" stroke-width="4.8" stroke-linecap="butt"/>
<line x1="1600.25" y1="1242" x2="1600.25" y2="1365.8" stroke="#6c6c6c" stroke-width="4.7" stroke-linecap="butt"/>
<line x1="1600.25" y1="1453" x2="1600.25" y2="1617.6" stroke="#6c6c6c" stroke-width="4.7" stroke-linecap="butt"/>
<line x1="1586.25" y1="1242" x2="1614.25" y2="1242" stroke="#6c6c6c" stroke-width="4.7" stroke-linecap="round"/>
<line x1="1586.25" y1="1617.6" x2="1614.25" y2="1617.6" stroke="#6c6c6c" stroke-width="4.7" stroke-linecap="round"/>
<rect x="1570.6" y="1365.8" width="59.31" height="87.2" fill="#929592" stroke="#6c6c6c" stroke-width="4.8"/>
<line x1="1570.6" y1="1394.6" x2="1629.9" y2="1394.6" stroke="#6c6c6c" stroke-width="4.8" stroke-linecap="butt"/>
<line x1="1674.39" y1="1237.1" x2="1674.39" y2="1364" stroke="#6c6c6c" stroke-width="4.7" stroke-linecap="butt"/>
<line x1="1674.39" y1="1456.1" x2="1674.39" y2="1595.6" stroke="#6c6c6c" stroke-width="4.7" stroke-linecap="butt"/>
<line x1="1660.39" y1="1237.1" x2="1688.39" y2="1237.1" stroke="#6c6c6c" stroke-width="4.7" stroke-linecap="round"/>
<line x1="1660.39" y1="1595.6" x2="1688.39" y2="1595.6" stroke="#6c6c6c" stroke-width="4.7" stroke-linecap="round"/>
<rect x="1644.73" y="1364" width="59.31" height="92.1" fill="#929592" stroke="#6c6c6c" stroke-width="4.8"/>
<line x1="1644.73" y1="1390.7" x2="1704.04" y2="1390.7" stroke="#6c6c6c" stroke-width="4.8" stroke-linecap="butt"/>
<line x1="1748.52" y1="1216.1" x2="1748.52" y2="1364" stroke="#6c6c6c" stroke-width="4.7" stroke-linecap="butt"/>
<line x1="1748.52" y1="1465.3" x2="1748.52" y2="1615" stroke="#6c6c6c" stroke-width="4.7" stroke-linecap="butt"/>
<line x1="1734.52" y1="1216.1" x2="1762.52" y2="1216.1" stroke="#6c6c6c" stroke-width="4.7" stroke-linecap="round"/>
<line x1="1734.52" y1="1615" x2="1762.52" y2="1615" stroke="#6c6c6c" stroke-width="4.7" stroke-linecap="round"/>
<rect x="1718.87" y="1364" width="59.31" height="101.3" fill="#929592" stroke="#6c6c6c" stroke-width="4.8"/>
<line x1="1718.87" y1="1401.9" x2="1778.18" y2="1401.9" stroke="#6c6c6c" stroke-width="4.8" stroke-linecap="butt"/>
<line x1="1822.66" y1="1188.4" x2="1822.66" y2="1384.1" stroke="#6c6c6c" stroke-width="4.7" stroke-linecap="butt"/>
<line x1="1822.66" y1="1540.4" x2="1822.66" y2="1786" stroke="#6c6c6c" stroke-width="4.7" stroke-linecap="butt"/>
<line x1="1808.66" y1="1188.4" x2="1836.66" y2="1188.4" stroke="#6c6c6c" stroke-width="4.7" stroke-linecap="round"/>
<line x1="1808.66" y1="1786" x2="1836.66" y2="1786" stroke="#6c6c6c" stroke-width="4.7" stroke-linecap="round"/>
<rect x="1793" y="1384.1" width="59.31" height="156.3" fill="#929592" stroke="#6c6c6c" stroke-width="4.8"/>
<line x1="1793" y1="1435.2" x2="1852.31" y2="1435.2" stroke="#6c6c6c" stroke-width="4.8" stroke-linecap="butt"/>
<line x1="1896.8" y1="1323.9" x2="1896.8" y2="1386" stroke="#6c6c6c" stroke-width="4.7" stroke-linecap="butt"/>
<line x1="1896.8" y1="1520.2" x2="1896.8" y2="1679.3" stroke="#6c6c6c" stroke-width="4.7" stroke-linecap="butt"/>
<line x1="1882.8" y1="1323.9" x2="1910.8" y2="1323.9" stroke="#6c6c6c" stroke-width="4.7" stroke-linecap="round"/>
<line x1="1882.8" y1="1679.3" x2="1910.8" y2="1679.3" stroke="#6c6c6c" stroke-width="4.7" stroke-linecap="round"/>
<rect x="1867.14" y="1386" width="59.31" height="134.2" fill="#929592" stroke="#6c6c6c" stroke-width="4.8"/>
<line x1="1867.14" y1="1439.9" x2="1926.45" y2="1439.9" stroke="#6c6c6c" stroke-width="4.8" stroke-linecap="butt"/>
<line x1="1970.93" y1="1244.9" x2="1970.93" y2="1407.7" stroke="#6c6c6c" stroke-width="4.7" stroke-linecap="butt"/>
<line x1="1970.93" y1="1587.7" x2="1970.93" y2="1807.1" stroke="#6c6c6c" stroke-width="4.7" stroke-linecap="butt"/>
<line x1="1956.93" y1="1244.9" x2="1984.93" y2="1244.9" stroke="#6c6c6c" stroke-width="4.7" stroke-linecap="round"/>
<line x1="1956.93" y1="1807.1" x2="1984.93" y2="1807.1" stroke="#6c6c6c" stroke-width="4.7" stroke-linecap="round"/>
<rect x="1941.28" y="1407.7" width="59.31" height="180" fill="#929592" stroke="#6c6c6c" stroke-width="4.8"/>
<line x1="1941.28" y1="1471.8" x2="2000.59" y2="1471.8" stroke="#6c6c6c" stroke-width="4.8" stroke-linecap="butt"/>
<path d="M1229.57,1387.8 L1243.77,1415.8 L1215.37,1415.8 Z" fill="#ff0000"/>
<path d="M1303.7,1387.5 L1317.9,1415.5 L1289.5,1415.5 Z" fill="#ff0000"/>
<path d="M1377.84,1416.6 L1392.04,1444.6 L1363.64,1444.6 Z" fill="#ff0000"/>
<path d="M1451.98,1399 L1466.18,1427 L1437.78,1427 Z" fill="#ff0000"/>
<path d="M1526.11,1418.5 L1540.31,1446.5 L1511.91,1446.5 Z" fill="#ff0000"/>
<path d="M1600.25,1416.6 L1614.45,1444.6 L1586.05,1444.6 Z" fill="#ff0000"/>
<path d="M1674.39,1412 L1688.59,1440 L1660.19,1440 Z" fill="#ff0000"/>
<path d="M1748.52,1425 L1762.72,1453 L1734.32,1453 Z" fill="#ff0000"/>
<path d="M1822.66,1488.5 L1836.86,1516.5 L1808.46,1516.5 Z" fill="#ff0000"/>
<path d="M1896.8,1487.2 L1911,1515.2 L1882.6,1515.2 Z" fill="#ff0000"/>
<path d="M1970.93,1576.5 L1985.13,1604.5 L1956.73,1604.5 Z" fill="#ff0000"/>
<line x1="1192.5" y1="1370.7" x2="2008" y2="1370.7" stroke="#262626" stroke-width="6.2" stroke-linecap="butt"/>
<rect x="1192.5" y="1102" width="815.5" height="806" fill="none" stroke="#333333" stroke-width="4.2"/>
<g transform="translate(156.8,1117.03)" fill="#333333" font-size="38.46"><text transform="translate(-42.58,0) scale(0.950,1)">1</text><text transform="translate(-19.79,0) scale(0.995,1)">0</text></g>
<g transform="translate(156.8,1251.37)" fill="#333333" font-size="38.46"><text transform="translate(-18.57,0) scale(0.939,1)">5</text></g>
<g transform="translate(156.8,1385.7)" fill="#333333" font-size="38.46"><text transform="translate(-19.79,0) scale(0.995,1)">0</text></g>
<g transform="translate(156.8,1520.03)" fill="#333333" font-size="38.46"><text transform="translate(-48.8,0) scale(1.216,1)">−</text><text transform="translate(-18.57,0) scale(0.939,1)">5</text></g>
<g transform="translate(156.8,1654.37)" fill="#333333" font-size="38.46"><text transform="translate(-72.66,0) scale(1.216,1)">−</text><text transform="translate(-42.58,0) scale(0.950,1)">1</text><text transform="translate(-19.79,0) scale(0.995,1)">0</text></g>
<g transform="translate(156.8,1788.7)" fill="#333333" font-size="38.46"><text transform="translate(-71.89,0) scale(1.216,1)">−</text><text transform="translate(-41.81,0) scale(0.950,1)">1</text><text transform="translate(-18.57,0) scale(0.939,1)">5</text></g>
<g transform="translate(156.8,1923.03)" fill="#333333" font-size="38.46"><text transform="translate(-72.66,0) scale(1.216,1)">−</text><text transform="translate(-42.98,0) scale(0.959,1)">2</text><text transform="translate(-19.79,0) scale(0.995,1)">0</text></g>
<g transform="translate(1159.8,1117.03)" fill="#333333" font-size="38.46"><text transform="translate(-42.58,0) scale(0.950,1)">1</text><text transform="translate(-19.79,0) scale(0.995,1)">0</text></g>
<g transform="translate(1159.8,1251.37)" fill="#333333" font-size="38.46"><text transform="translate(-18.57,0) scale(0.939,1)">5</text></g>
<g transform="translate(1159.8,1385.7)" fill="#333333" font-size="38.46"><text transform="translate(-19.79,0) scale(0.995,1)">0</text></g>
<g transform="translate(1159.8,1520.03)" fill="#333333" font-size="38.46"><text transform="translate(-48.8,0) scale(1.216,1)">−</text><text transform="translate(-18.57,0) scale(0.939,1)">5</text></g>
<g transform="translate(1159.8,1654.37)" fill="#333333" font-size="38.46"><text transform="translate(-72.66,0) scale(1.216,1)">−</text><text transform="translate(-42.58,0) scale(0.950,1)">1</text><text transform="translate(-19.79,0) scale(0.995,1)">0</text></g>
<g transform="translate(1159.8,1788.7)" fill="#333333" font-size="38.46"><text transform="translate(-71.89,0) scale(1.216,1)">−</text><text transform="translate(-41.81,0) scale(0.950,1)">1</text><text transform="translate(-18.57,0) scale(0.939,1)">5</text></g>
<g transform="translate(1159.8,1923.03)" fill="#333333" font-size="38.46"><text transform="translate(-72.66,0) scale(1.216,1)">−</text><text transform="translate(-42.98,0) scale(0.959,1)">2</text><text transform="translate(-19.79,0) scale(0.995,1)">0</text></g>
<g transform="translate(292.4,1966.5)" fill="#333333" font-size="38.46"><text transform="translate(-30.01,0) scale(0.976,1)">D</text><path transform="translate(-2.54,0) scale(0.01772,-0.01772)" d="M201 1493H403V104Q403 -166 300 -288Q198 -410 -29 -410H-106V-240H-43Q91 -240 146 -165Q201 -90 201 104Z"/><text transform="translate(7.78,0) scale(0.920,1)">F</text></g>
<g transform="translate(496.3,1966.5)" fill="#333333" font-size="38.46"><text transform="translate(-43.15,0) scale(0.941,1)">M</text><text transform="translate(-12.21,0) scale(0.951,1)">A</text><text transform="translate(13,0) scale(0.941,1)">M</text></g>
<g transform="translate(700.2,1966.5)" fill="#333333" font-size="38.46"><path transform="translate(-22.03,0) scale(0.01772,-0.01772)" d="M201 1493H403V104Q403 -166 300 -288Q198 -410 -29 -410H-106V-240H-43Q91 -240 146 -165Q201 -90 201 104Z"/><path transform="translate(-11.33,0) scale(0.01772,-0.01772)" d="M201 1493H403V104Q403 -166 300 -288Q198 -410 -29 -410H-106V-240H-43Q91 -240 146 -165Q201 -90 201 104Z"/><text transform="translate(-0.41,0) scale(0.951,1)">A</text></g>
<g transform="translate(904.1,1966.5)" fill="#333333" font-size="38.46"><text transform="translate(-38.88,0) scale(0.920,1)">S</text><text transform="translate(-15.42,0) scale(0.933,1)">O</text><text transform="translate(13.44,0) scale(0.932,1)">N</text></g>
<g transform="translate(1229.07,1966.4)" fill="#333333" font-size="38.46"><text transform="translate(-22.68,0) scale(0.950,1)">1</text><text transform="translate(0.11,0) scale(0.995,1)">0</text></g>
<g transform="translate(1303.2,1966.4)" fill="#333333" font-size="38.46"><text transform="translate(-22.42,0) scale(0.959,1)">2</text><text transform="translate(0.77,0) scale(0.995,1)">0</text></g>
<g transform="translate(1377.34,1966.4)" fill="#333333" font-size="38.46"><text transform="translate(-21.91,0) scale(0.955,1)">3</text><text transform="translate(0.72,0) scale(0.995,1)">0</text></g>
<g transform="translate(1451.48,1966.4)" fill="#333333" font-size="38.46"><text transform="translate(-21.88,0) scale(0.995,1)">4</text><text transform="translate(1.22,0) scale(0.995,1)">0</text></g>
<g transform="translate(1525.61,1966.4)" fill="#333333" font-size="38.46"><text transform="translate(-21.94,0) scale(0.939,1)">5</text><text transform="translate(0.7,0) scale(0.995,1)">0</text></g>
<g transform="translate(1599.75,1966.4)" fill="#333333" font-size="38.46"><text transform="translate(-22.63,0) scale(1.030,1)">6</text><text transform="translate(0.84,0) scale(0.995,1)">0</text></g>
<g transform="translate(1673.89,1966.4)" fill="#333333" font-size="38.46"><text transform="translate(-22.32,0) scale(0.973,1)">7</text><text transform="translate(0.61,0) scale(0.995,1)">0</text></g>
<g transform="translate(1748.02,1966.4)" fill="#333333" font-size="38.46"><text transform="translate(-22.34,0) scale(1.006,1)">8</text><text transform="translate(0.87,0) scale(0.995,1)">0</text></g>
<g transform="translate(1822.16,1966.4)" fill="#333333" font-size="38.46"><text transform="translate(-21.96,0) scale(1.006,1)">8</text><text transform="translate(1.71,0) scale(0.939,1)">5</text></g>
<g transform="translate(1896.3,1966.4)" fill="#333333" font-size="38.46"><text transform="translate(-22.6,0) scale(1.028,1)">9</text><text transform="translate(0.96,0) scale(0.995,1)">0</text></g>
<g transform="translate(1970.43,1966.4)" fill="#333333" font-size="38.46"><text transform="translate(-22.22,0) scale(1.028,1)">9</text><text transform="translate(1.8,0) scale(0.939,1)">5</text></g>
<g transform="translate(595.8,2017.1)" fill="#333333" font-size="41.96"><text transform="translate(-71.58,0) scale(0.920,1)">S</text><text transform="translate(-45.98,0) scale(1.019,1)">e</text><text transform="translate(-22.02,0) scale(0.920,1)">a</text><text transform="translate(3.21,0) scale(0.920,1)">s</text><text x="23.33">o</text><text transform="translate(47.9,0) scale(1.018,1)">n</text></g>
<g transform="translate(1600.8,2017)" fill="#333333" font-size="41.96"><text transform="translate(-68.94,0) scale(0.920,1)">R</text><text transform="translate(-41.27,0) scale(0.939,1)">H</text><text transform="translate(1.42,-2.62) scale(0.840,0.902)">(</text><text transform="translate(16.62,0) scale(0.969,1)">%</text><text transform="translate(56.24,-2.62) scale(0.840,0.902)">)</text></g>
<g transform="translate(205,1877)" fill="#333333" font-size="69.93"><text transform="translate(-4.03,-4.36) scale(0.840,0.902)">(</text><text transform="translate(20.91,0) scale(0.947,1)">c</text><text transform="translate(60.91,-4.36) scale(0.840,0.902)">)</text></g>
<g transform="translate(1202,1877)" fill="#333333" font-size="69.93"><text transform="translate(-4.03,-4.36) scale(0.840,0.902)">(</text><text transform="translate(20.71,0) scale(1.026,1)">d</text><text transform="translate(66.52,-4.36) scale(0.840,0.902)">)</text></g>
<g transform="translate(56.2,1685.6) rotate(-90)" fill="#333333" font-size="41.96"><text transform="translate(-1.3,0) scale(1.037,1)">Δ</text></g>
<g transform="translate(56.2,1642.7) rotate(-90)" fill="#333333" font-size="41.96"><text transform="translate(-4.12,0) scale(0.920,1)">P</text><text transform="translate(20.64,0) scale(0.941,1)">M</text></g>
<g transform="translate(62.3,1587.3) rotate(-90)" fill="#333333" font-size="29.35"><text transform="translate(-1.42,0) scale(0.959,1)">2</text><text transform="translate(15.82,0) scale(1.021,1)">.</text><text transform="translate(25.43,0) scale(0.939,1)">5</text></g>
<g transform="translate(62.3,1545.5) rotate(-90)" fill="#333333" font-size="29.35"><text transform="translate(-0.26,0) scale(0.920,1)">_</text></g>
<g transform="translate(62.3,1531.2) rotate(-90)" fill="#333333" font-size="29.35" font-style="italic"><text transform="translate(-1.81,0) scale(0.920,1)">R</text><text transform="translate(18.39,0) scale(0.952,1)">H</text></g>
<g transform="translate(56.2,1475.2) rotate(-90)" fill="#333333" font-size="41.96"><text transform="translate(-2.42,-2.62) scale(0.840,0.902)">(</text></g>
<g transform="translate(56.2,1461) rotate(-90)" fill="#333333" font-size="41.96"><text transform="translate(-3.23,0) scale(1.142,1)">μ</text><text transform="translate(22.21,0) scale(1.026,1)">g</text></g>
<g transform="translate(56.2,1398.6) rotate(-90)" fill="#333333" font-size="41.96" font-style="italic"><text transform="translate(-0.74,0) scale(1.067,1)">m</text></g>
<g transform="translate(41.9,1361.7) rotate(-90)" fill="#333333" font-size="29.35"><text transform="translate(-1.33,0) scale(1.017,1)">-</text></g>
<g transform="translate(41.9,1349.3) rotate(-90)" fill="#333333" font-size="29.35"><text transform="translate(-1.07,0) scale(0.955,1)">3</text></g>
<g transform="translate(56.2,1329.4) rotate(-90)" fill="#333333" font-size="41.96"><text transform="translate(-0.44,-2.62) scale(0.840,0.902)">)</text></g>
<g transform="translate(1059.2,1685.6) rotate(-90)" fill="#333333" font-size="41.96"><text transform="translate(-1.3,0) scale(1.037,1)">Δ</text></g>
<g transform="translate(1059.2,1642.7) rotate(-90)" fill="#333333" font-size="41.96"><text transform="translate(-4.12,0) scale(0.920,1)">P</text><text transform="translate(20.64,0) scale(0.941,1)">M</text></g>
<g transform="translate(1065.3,1587.3) rotate(-90)" fill="#333333" font-size="29.35"><text transform="translate(-1.42,0) scale(0.959,1)">2</text><text transform="translate(15.82,0) scale(1.021,1)">.</text><text transform="translate(25.43,0) scale(0.939,1)">5</text></g>
<g transform="translate(1065.3,1545.5) rotate(-90)" fill="#333333" font-size="29.35"><text transform="translate(-0.26,0) scale(0.920,1)">_</text></g>
<g transform="translate(1065.3,1531.2) rotate(-90)" fill="#333333" font-size="29.35" font-style="italic"><text transform="translate(-1.81,0) scale(0.920,1)">R</text><text transform="translate(18.39,0) scale(0.952,1)">H</text></g>
<g transform="translate(1059.2,1475.2) rotate(-90)" fill="#333333" font-size="41.96"><text transform="translate(-2.42,-2.62) scale(0.840,0.902)">(</text></g>
<g transform="translate(1059.2,1461) rotate(-90)" fill="#333333" font-size="41.96"><text transform="translate(-3.23,0) scale(1.142,1)">μ</text><text transform="translate(22.21,0) scale(1.026,1)">g</text></g>
<g transform="translate(1059.2,1398.6) rotate(-90)" fill="#333333" font-size="41.96" font-style="italic"><text transform="translate(-0.74,0) scale(1.067,1)">m</text></g>
<g transform="translate(1044.9,1361.7) rotate(-90)" fill="#333333" font-size="29.35"><text transform="translate(-1.33,0) scale(1.017,1)">-</text></g>
<g transform="translate(1044.9,1349.3) rotate(-90)" fill="#333333" font-size="29.35"><text transform="translate(-1.07,0) scale(0.955,1)">3</text></g>
<g transform="translate(1059.2,1329.4) rotate(-90)" fill="#333333" font-size="41.96"><text transform="translate(-0.44,-2.62) scale(0.840,0.902)">)</text></g>
</svg>
</body></html>
